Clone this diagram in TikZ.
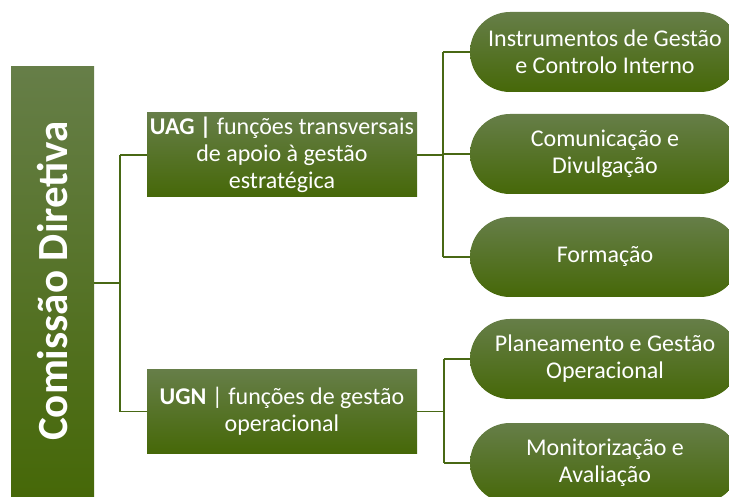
\documentclass[tikz,border=0pt]{standalone}
\usepackage{fontspec}
\setmainfont{Carlito}
\usetikzlibrary{shapes.misc}
\definecolor{gtop}{RGB}{102,126,72}
\definecolor{gbot}{RGB}{70,104,8}
\definecolor{lnc}{RGB}{72,104,20}
\tikzset{
  box/.style={rectangle, top color=gtop, bottom color=gbot, draw=none,
    text=white, align=center, inner sep=0pt, font=\fontsize{24}{27}\selectfont},
  pill/.style={rounded rectangle, top color=gtop, bottom color=gbot, draw=none,
    text=white, align=center, inner sep=0pt, minimum width=270pt, minimum height=80pt,
    font=\fontsize{24}{27}\selectfont},
  conn/.style={draw=lnc, line width=1.3pt},
}
\begin{document}
\begin{tikzpicture}[x=1pt,y=-1pt]
\useasboundingbox (0,0) rectangle (729,497);
\clip (0,0) rectangle (729,497);
\node[box, minimum width=83pt, minimum height=430pt] (cd) at (52.5,282) {};
\node[text=white, rotate=90, font=\fontsize{43}{46}\selectfont\bfseries] (cdt) at (53,281) {Comissão Diretiva};
\node[box, minimum width=270pt, minimum height=84pt] (uag) at (282,155) {\textbf{UAG |} funções transversais\\de apoio à gestão\\estratégica};
\node[box, minimum width=270pt, minimum height=83pt] (ugn) at (282,411.5) {\textbf{UGN} | funções de gestão\\operacional};
\node[pill] (p1) at (605,52) {Instrumentos de Gestão\\e Controlo Interno};
\node[pill] (p2) at (605,154) {Comunicação e\\Divulgação};
\node[pill] (p3) at (605,257) {Formação};
\node[pill] (p4) at (605,359) {Planeamento e Gestão\\Operacional};
\node[pill] (p5) at (605,463) {Monitorização e\\Avaliação};
\coordinate (j0) at (120,283);
\coordinate (j1) at (443,155);
\coordinate (j2) at (444,411.5);
\draw[conn] (cd.east |- j0) -- (j0);
\draw[conn] (j0 |- uag.west) -- (j0 |- ugn.west);
\draw[conn] (j0 |- uag.west) -- (uag.west);
\draw[conn] (j0 |- ugn.west) -- (ugn.west);
\draw[conn] (uag.east) -- (j1);
\draw[conn] (j1 |- p1.west) -- (j1 |- p3.west);
\draw[conn] (j1 |- p1.west) -- (p1.west);
\draw[conn] (j1 |- p2.west) -- (p2.west);
\draw[conn] (j1 |- p3.west) -- (p3.west);
\draw[conn] (ugn.east) -- (j2);
\draw[conn] (j2 |- p4.west) -- (j2 |- p5.west);
\draw[conn] (j2 |- p4.west) -- (p4.west);
\draw[conn] (j2 |- p5.west) -- (p5.west);
\end{tikzpicture}
\end{document}
